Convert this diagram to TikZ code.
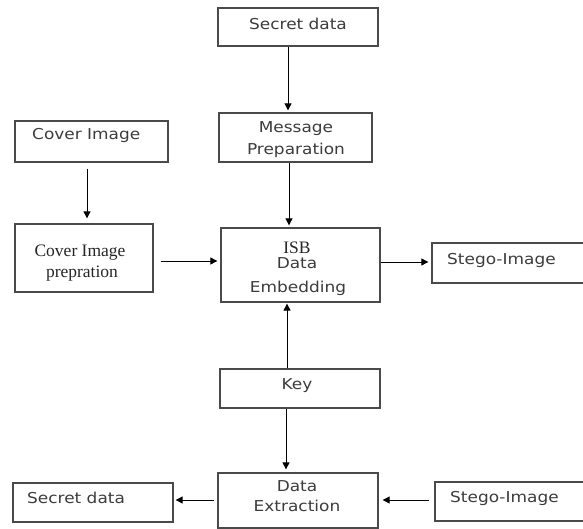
\documentclass[tikz,border=0pt]{standalone}
\usepackage{fontspec}
\usetikzlibrary{arrows.meta}
\newfontfamily\sfx[FakeStretch=1.13]{DejaVu Sans}
\newfontfamily\srx{Liberation Serif}
\definecolor{textgrey}{HTML}{3C3C3C}
\definecolor{boxgrey}{HTML}{4A4A4A}
\tikzset{
  box/.style={draw=boxgrey, line width=1.3pt, rectangle, inner sep=0pt},
  sans/.style={font=\sfx\fontsize{15}{18}\selectfont, text=textgrey, inner sep=0pt},
  serif/.style={font=\srx\fontsize{17.5}{20}\selectfont, text=black!85, inner sep=0pt},
  arr/.style={draw=black, line width=0.9pt, -{Triangle[length=7pt,width=7pt]}}
}
\begin{document}
\begin{tikzpicture}[x=1pt,y=-1pt]
\useasboundingbox (0,0) rectangle (583,529);
\clip (0,0) rectangle (583,529);
\fill[white] (0,0) rectangle (583,529);

% boxes
\node[box, minimum width=160pt, minimum height=38pt] (sd1) at (298,27) {};
\node[box, minimum width=153pt, minimum height=49pt] (mp) at (295.5,137.5) {};
\node[box, minimum width=153pt, minimum height=41pt] (ci) at (91.5,141.5) {};
\node[box, minimum width=138pt, minimum height=68pt] (cip) at (84,258) {};
\node[box, minimum width=159pt, minimum height=74pt] (isb) at (300.5,265) {};
\node[box, minimum width=168pt, minimum height=40pt] (st1) at (516,263) {};
\node[box, minimum width=160pt, minimum height=39pt] (key) at (300,388.5) {};
\node[box, minimum width=160pt, minimum height=55pt] (de) at (298,500.5) {};
\node[box, minimum width=160pt, minimum height=39pt] (sd2) at (93,502.5) {};
\node[box, minimum width=165pt, minimum height=39pt] (st2) at (517.5,501.5) {};

% texts
\node[sans, anchor=base] (t-sd1) at (298,30) {Secret data};
\node[sans, anchor=base] (t-mp1) at (296,133) {Message};
\node[sans, anchor=base] (t-mp2) at (296,155) {Preparation};
\node[sans, anchor=base west] (t-ci) at (32,140) {Cover Image};
\node[serif, anchor=base] (t-cip1) at (80,256) {Cover Image};
\node[serif, anchor=base] (t-cip2) at (82,277) {prepration};
\node[serif, anchor=base] (t-isb1) at (297,253) {ISB};
\node[sans, anchor=base] (t-isb2) at (297,269) {Data};
\node[sans, anchor=base] (t-isb3) at (298,292) {Embedding};
\node[sans, anchor=base west] (t-st1) at (447,264) {Stego-Image};
\node[sans, anchor=base] (t-key) at (297,389) {Key};
\node[sans, anchor=base] (t-de1) at (297,491) {Data};
\node[sans, anchor=base] (t-de2) at (297,511) {Extraction};
\node[sans, anchor=base west] (t-sd2) at (27,503) {Secret data};
\node[sans, anchor=base west] (t-st2) at (450,502) {Stego-Image};

% guide coordinates
\coordinate (xa) at (288,0);
\coordinate (xb) at (289,0);
\coordinate (xc) at (87,0);
\coordinate (xd) at (287,0);
\coordinate (xe) at (286,0);
\coordinate (ya) at (0,261);
\coordinate (yb) at (0,262);
\coordinate (yc) at (0,500);

% connectors
\draw[arr, shorten >=2pt] (sd1.south -| xa) -- (mp.north -| xa);
\draw[arr, shorten >=2pt] (mp.south -| xb) -- (isb.north -| xb);
\draw[arr, shorten <=6pt, shorten >=5pt] (ci.south -| xc) -- (cip.north -| xc);
\draw[arr, shorten <=7pt, shorten >=3pt] (cip.east |- ya) -- (isb.west |- ya);
\draw[arr, shorten >=3pt] (isb.east |- yb) -- (st1.west |- yb);
\draw[arr, shorten >=1pt] (key.north -| xd) -- (isb.south -| xd);
\draw[arr, shorten >=3pt] (key.south -| xe) -- (de.north -| xe);
\draw[arr, shorten <=3pt, shorten >=2pt] (de.west |- yc) -- (sd2.east |- yc);
\draw[arr, shorten <=5pt, shorten >=4pt] (st2.west |- yc) -- (de.east |- yc);
\end{tikzpicture}
\end{document}
